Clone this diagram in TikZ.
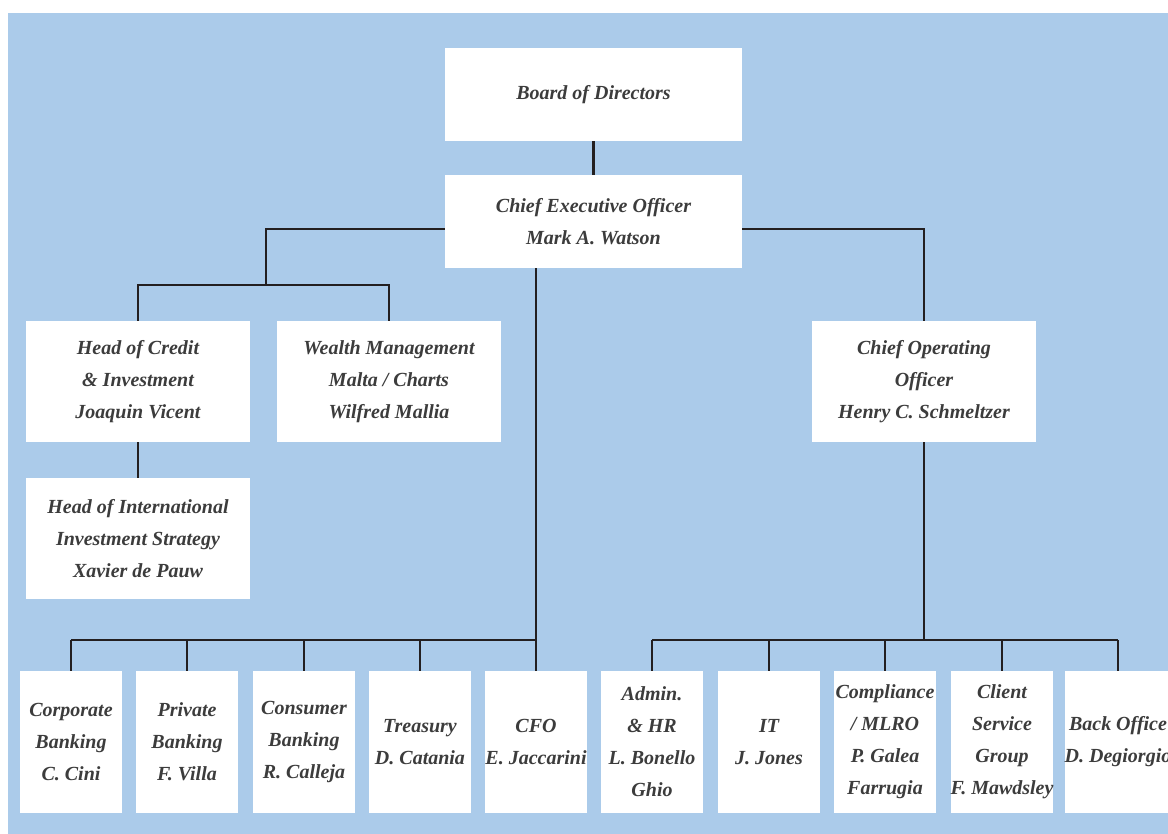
\documentclass[tikz,border=0pt]{standalone}
\usepackage{fontspec}
\setmainfont{Liberation Serif}
\definecolor{bgblue}{HTML}{ABCBEA}
\definecolor{txtgray}{HTML}{3C3C3C}
\definecolor{linedark}{HTML}{231F20}
\tikzset{
	unit/.style={fill=white, inner sep=0pt, align=center, text=txtgray,
		font=\bfseries\itshape\fontsize{15}{24}\selectfont},
	topunit/.style={unit, minimum width=222.75pt, minimum height=69.75pt},
	midunit/.style={unit, minimum width=168pt, minimum height=90.75pt},
	lowunit/.style={unit, minimum width=76.5pt, minimum height=106.5pt},
	link/.style={draw=linedark, line width=1.7pt}
}
\begin{document}
\begin{tikzpicture}[x=0.75pt,y=-0.75pt]
	\useasboundingbox (0,0) rectangle (1168,834);
	\fill[bgblue] (8,13) rectangle (1168,834);
	\node[topunit] (board) at (593.5,94.5) {Board of Directors};
	\node[topunit] (ceo) at (593.5,221.5) {Chief Executive Officer\\Mark A. Watson};
	\node[midunit] (credit) at (138,381.5) {Head of Credit\\\& Investment\\Joaquin Vicent};
	\node[midunit] (wealth) at (389,381.5) {Wealth Management\\Malta / Charts\\Wilfred Mallia};
	\node[midunit] (intl) at (138,538.5) {Head of International\\Investment Strategy\\Xavier de Pauw};
	\node[midunit] (coo) at (924,381.5) {Chief Operating\\Officer\\Henry C. Schmeltzer};
	\node[lowunit] (corp) at (71,742) {Corporate\\Banking\\C. Cini};
	\node[lowunit] (priv) at (187,742) {Private\\Banking\\F. Villa};
	\node[lowunit] (cons) at (304,742) {Consumer\\Banking\\R. Calleja};
	\node[lowunit] (treas) at (420,742) {Treasury\\D. Catania};
	\node[lowunit] (cfo) at (536,742) {CFO\\E. Jaccarini};
	\node[lowunit] (admin) at (652,742) {Admin.\\\& HR\\L. Bonello\\Ghio};
	\node[lowunit] (it) at (769,742) {IT\\J. Jones};
	\node[lowunit] (compl) at (885,742) {Compliance\\/ MLRO\\P. Galea\\Farrugia};
	\node[lowunit] (client) at (1002,742) {Client\\Service\\Group\\F. Mawdsley};
	\node[lowunit] (back) at (1118,742) {Back Office\\D. Degiorgio};
	\coordinate (credsplit) at (266,285);
	\coordinate (lowbar) at (0,640);
	\draw[link] (board) -- (ceo);
	\draw[link] ([yshift=-5.6pt]ceo.west) -| (credsplit);
	\draw[link] (credit) |- (credsplit) -| (wealth);
	\draw[link] (credit) -- (intl);
	\draw[link] ([yshift=-5.6pt]ceo.east) -| (coo);
	\draw[link] (ceo.south -| cfo) -- (cfo);
	\draw[link] (corp |- lowbar) -- (cfo |- lowbar);
	\foreach \n in {corp,priv,cons,treas}
		\draw[link] (\n) -- (\n |- lowbar);
	\draw[link] (coo) -- (coo |- lowbar);
	\draw[link] (admin |- lowbar) -- (back |- lowbar);
	\foreach \n in {admin,it,compl,client,back}
		\draw[link] (\n) -- (\n |- lowbar);
\end{tikzpicture}
\end{document}
